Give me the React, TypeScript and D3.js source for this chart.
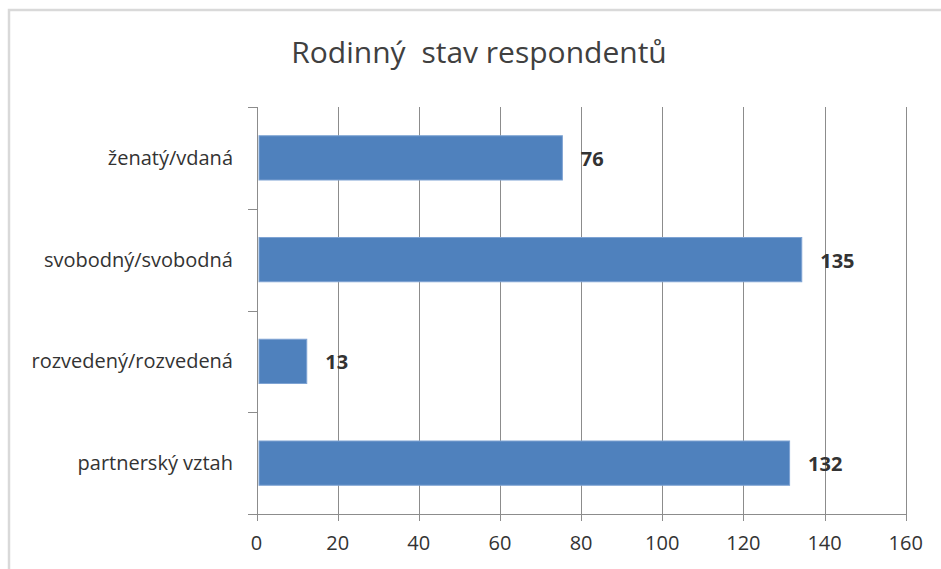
import React from "react";
import * as d3 from "d3";

const categories = ["ženatý/vdaná", "svobodný/svobodná", "rozvedený/rozvedená", "partnerský vztah"];
const values = [76, 135, 13, 132];
const xTicks = [0, 20, 40, 60, 80, 100, 120, 140, 160];
const titleWords = ["Rodinný", "stav respondentů"];

const W = 941;
const H = 569;
const plot = { left: 256.5, right: 905.7, top: 107, bottom: 514 };
const FONT = "'Open Sans', Lato, sans-serif";
const GRID = "#8c8c8c";
const TEXT = "#333333";

export default function App() {
  const x = d3.scaleLinear().domain([0, 160]).range([plot.left, plot.right]);
  const y = d3
    .scaleBand<string>()
    .domain(categories)
    .range([plot.top, plot.bottom])
    .paddingInner(0.565)
    .paddingOuter(0.2825);
  const step = y.step();
  const boundaries = d3.range(categories.length + 1).map((i) => plot.top + i * step);

  return (
    <svg
      width={W}
      height={H}
      style={{ position: "absolute", left: 0, top: 0, display: "block" }}
    >
      <rect x={0} y={0} width={W} height={H} fill="#fff" />
      {/* chart frame */}
      <rect x={9} y={10} width={W + 10} height={H + 10} fill="none" stroke="#d9d9d9" strokeWidth={2.5} />

      <text
        x={479}
        y={63}
        textAnchor="middle"
        fontFamily={FONT}
        fontSize={30}
        fill="#404040"
      >
        <tspan>{titleWords[0]}</tspan>
        <tspan dx={8}>{" " + titleWords[1]}</tspan>
      </text>

      {/* vertical gridlines */}
      {xTicks.slice(1).map((t) => (
        <line
          key={`g${t}`}
          x1={Math.round(x(t)) + 0.5}
          x2={Math.round(x(t)) + 0.5}
          y1={plot.top}
          y2={plot.bottom}
          stroke={GRID}
          strokeWidth={1}
        />
      ))}

      {/* bars */}
      {categories.map((c, i) => (
        <rect
          key={c}
          x={x(0) + 2.5}
          y={y(c)!}
          width={x(values[i]) - x(0) - 5}
          height={y.bandwidth()}
          fill="#4f81bd"
          stroke="#7ea3d3"
          strokeWidth={1}
        />
      ))}

      {/* value labels */}
      {categories.map((c, i) => (
        <text
          key={`v${c}`}
          x={x(values[i]) - 2.5 + 18.5}
          y={y(c)! + y.bandwidth() / 2 + 1}
          dy="0.35em"
          fontFamily={FONT}
          fontWeight="bold"
          fontSize={20}
          fill={TEXT}
        >
          {values[i]}
        </text>
      ))}

      {/* vertical axis */}
      <line
        x1={Math.round(x(0)) + 0.5}
        x2={Math.round(x(0)) + 0.5}
        y1={plot.top}
        y2={plot.bottom}
        stroke={GRID}
      />
      {boundaries.map((b, i) => (
        <line
          key={`yt${i}`}
          x1={248}
          x2={Math.round(x(0)) + 0.5}
          y1={Math.round(b) + 0.5}
          y2={Math.round(b) + 0.5}
          stroke={GRID}
        />
      ))}
      {categories.map((c) => (
        <text
          key={`l${c}`}
          x={233}
          y={y(c)! + y.bandwidth() / 2}
          dy="0.35em"
          textAnchor="end"
          fontFamily={FONT}
          fontSize={20}
          fill={TEXT}
        >
          {c}
        </text>
      ))}

      {/* horizontal axis */}
      <line x1={248} x2={plot.right + 0.5} y1={plot.bottom + 0.5} y2={plot.bottom + 0.5} stroke={GRID} />
      {xTicks.map((t) => (
        <g key={`xt${t}`}>
          <line
            x1={Math.round(x(t)) + 0.5}
            x2={Math.round(x(t)) + 0.5}
            y1={plot.bottom}
            y2={plot.bottom + 7}
            stroke={GRID}
          />
          <text
            x={x(t)}
            y={543}
            dy="0.35em"
            textAnchor="middle"
            fontFamily={FONT}
            fontSize={20}
            fill={TEXT}
          >
            {t}
          </text>
        </g>
      ))}
    </svg>
  );
}
